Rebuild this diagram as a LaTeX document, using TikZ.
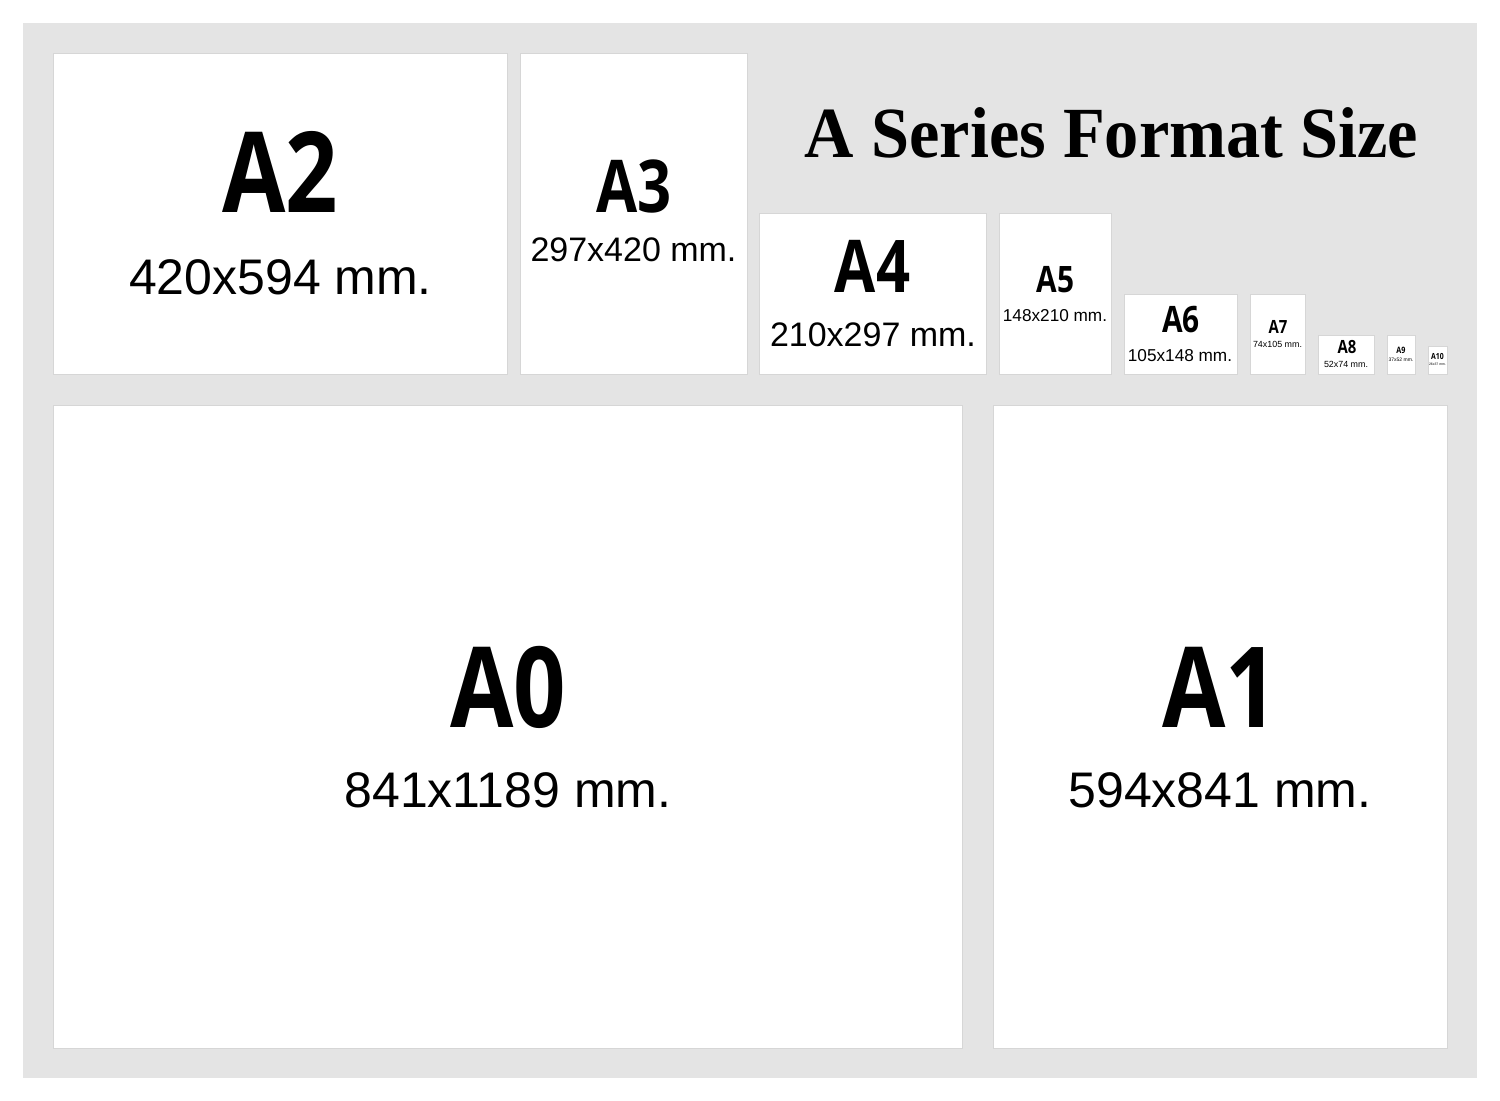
\documentclass[tikz,border=0pt]{standalone}
\usepackage{fontspec}
\setmainfont{Liberation Sans}
\newfontfamily\labfont[FakeStretch=0.82]{Open Sans}
\newfontfamily\titlefont[FakeStretch=0.95]{Liberation Serif}
\definecolor{bggray}{HTML}{E4E4E4}
\definecolor{edgegray}{HTML}{D6D6D6}
\newcommand{\fs}[1]{\fontsize{#1}{#1}\selectfont}
\begin{document}
\begin{tikzpicture}[x=0.5pt,y=-0.5pt,
  sheet/.style={fill=white,draw=edgegray,line width=0.4pt},
  lab/.style={inner sep=0pt,anchor=base,font={\labfont\bfseries}},
  dimtxt/.style={inner sep=0pt,anchor=base}]
\useasboundingbox (0,0) rectangle (1500,1101);
\fill[white] (0,0) rectangle (1500,1101);
\fill[bggray] (23,23) rectangle (1477,1078);
% sheets
\draw[sheet] (53,53) rectangle (507,374);
\draw[sheet] (520,53) rectangle (747,374);
\draw[sheet] (759,213) rectangle (986,374);
\draw[sheet] (999,213) rectangle (1111,374);
\draw[sheet] (1124,294) rectangle (1237,374);
\draw[sheet] (1250,294) rectangle (1305,374);
\draw[sheet] (1318,335) rectangle (1374,374);
\draw[sheet] (1387,335) rectangle (1415,374);
\draw[sheet] (1428,346) rectangle (1447,374);
\draw[sheet] (53,405) rectangle (962,1048);
\draw[sheet] (993,405) rectangle (1447,1048);
% title
\node[inner sep=0pt,anchor=base,font={\titlefont\bfseries\fs{36}}] (title) at (1111.5,158) {A Series Format Size};
% labels
\node[lab] (lA0) at (508.5,727) {\fs{56}A0};
\node[dimtxt] (dA0) at (508,807) {\fs{25}841x1189 mm.};
\node[lab] (lA1) at (1220.5,727) {\fs{56}A1};
\node[dimtxt] (dA1) at (1220,807) {\fs{25}594x841 mm.};
\node[lab] (lA2) at (280.5,213) {\fs{56}A2};
\node[dimtxt] (dA2) at (280.5,295) {\fs{25}420x594 mm.};
\node[lab] (lA3) at (634,213) {\fs{36.4}A3};
\node[dimtxt] (dA3) at (633.5,262) {\fs{17}297x420 mm.};
\node[lab] (lA4) at (872.5,293) {\fs{36.4}A4};
\node[dimtxt] (dA4) at (873,347) {\fs{17}210x297 mm.};
\node[lab] (lA5) at (1055.5,293) {\fs{18.2}A5};
\node[dimtxt] (dA5) at (1055,322) {\fs{8.6}148x210 mm.};
\node[lab] (lA6) at (1181,333) {\fs{18.2}A6};
\node[dimtxt] (dA6) at (1180,362) {\fs{8.6}105x148 mm.};
\node[lab] (lA7) at (1278,334) {\fs{9.1}A7};
\node[dimtxt] (dA7) at (1277.5,348) {\fs{4.45}74x105 mm.};
\node[lab] (lA8) at (1347,354) {\fs{9.1}A8};
\node[dimtxt] (dA8) at (1346,368) {\fs{4.45}52x74 mm.};
\node[lab] (lA9) at (1401,354) {\fs{4.4}A9};
\node[dimtxt] (dA9) at (1401,362) {\fs{2.5}37x52 mm.};
\node[lab] (lA10) at (1437.5,360) {\fs{4.2}A10};
\node[dimtxt] (dA10) at (1437.5,366) {\fs{1.7}26x37 mm.};
\end{tikzpicture}
\end{document}
